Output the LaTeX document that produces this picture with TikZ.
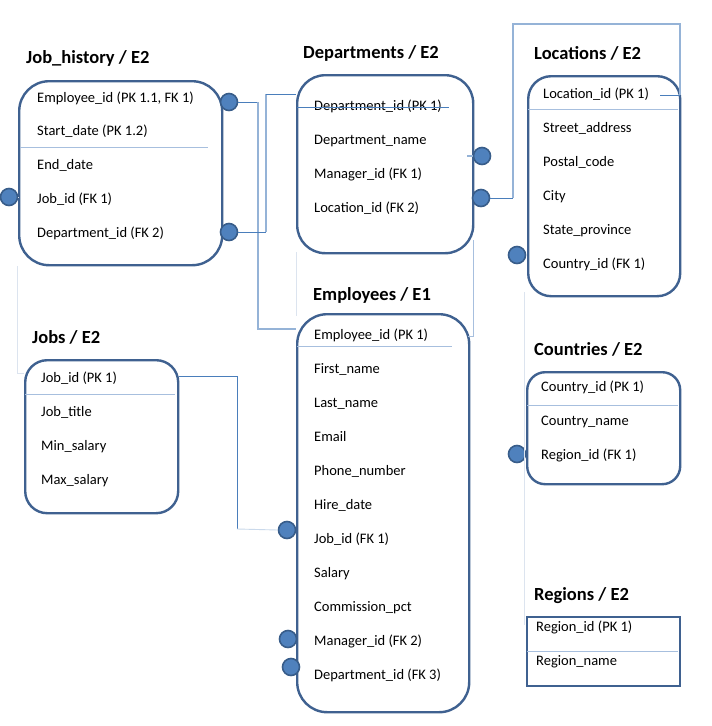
\documentclass[tikz,border=0pt]{standalone}
\usepackage{fontspec}
\setmainfont{Carlito}
\definecolor{boxc}{HTML}{3F6190}
\definecolor{dotf}{HTML}{4F81BD}
\definecolor{dotd}{HTML}{385D8A}
\definecolor{sepc}{HTML}{A7BFDE}
\definecolor{conc}{HTML}{4A7EBB}
\definecolor{conlc}{HTML}{95B3D7}
\definecolor{faintc}{HTML}{DCE4EF}
\begin{document}
\begin{tikzpicture}[x=1pt,y=-1pt,
  box/.style={draw=boxc, line width=2.4pt, fill=white, anchor=north west, inner sep=0pt},
  fld/.style={anchor=base west, font=\fontsize{14.5}{16}\selectfont, inner sep=0pt},
  ttl/.style={anchor=base west, font=\fontsize{18.5}{20}\selectfont\bfseries, inner sep=0pt},
  dot/.style={circle, draw=dotd, fill=dotf, line width=1.6pt, minimum size=17pt, inner sep=0pt},
  sepl/.style={draw=sepc, line width=0.8pt},
  con/.style={draw=conc, line width=1pt},
  conl/.style={draw=conlc, line width=1.3pt},
  faint/.style={draw=faintc, line width=0.9pt}]
\useasboundingbox[fill=white] (0,0) rectangle (712,726);

% ---------- boxes ----------
\node[box, rounded corners=30pt, minimum width=203pt, minimum height=184pt] (jh) at (18,80) {};
\node[box, rounded corners=28pt, minimum width=176pt, minimum height=178pt] (dep) at (296,74) {};
\node[box, rounded corners=23pt, minimum width=152pt, minimum height=220pt] (loc) at (527,75) {};
\node[box, rounded corners=30pt, minimum width=172pt, minimum height=398pt] (emp) at (296,313) {};
\node[box, rounded corners=22pt, minimum width=153pt, minimum height=153pt] (jobs) at (24,359) {};
\node[box, rounded corners=18pt, minimum width=153pt, minimum height=112pt] (cty) at (526,371) {};
\node[box, minimum width=153pt, minimum height=69pt] (reg) at (526,616) {};

% ---------- titles ----------
\node[ttl] (tjh) at (26,63) {Job\_history / E2};
\node[ttl] (tdep) at (303,58) {Departments / E2};
\node[ttl] (tloc) at (534,59) {Locations / E2};
\node[ttl] (temp) at (313,300) {Employees / E1};
\node[ttl] (tjobs) at (32,343) {Jobs / E2};
\node[ttl] (tcty) at (534,355) {Countries / E2};
\node[ttl] (treg) at (534,600) {Regions / E2};

% ---------- separators ----------
\coordinate (s1) at (20,147); \coordinate (s1e) at (208,147);
\draw[sepl] (s1) -- (s1e);
\coordinate (s2) at (528,109); \coordinate (s2e) at (678,109);
\draw[sepl] (s2) -- (s2e);
\coordinate (s3) at (297,346); \coordinate (s3e) at (452,346);
\draw[sepl] (s3) -- (s3e);
\coordinate (s4) at (25,394); \coordinate (s4e) at (175,394);
\draw[sepl] (s4) -- (s4e);
\coordinate (s5) at (527,405); \coordinate (s5e) at (678,405);
\draw[sepl] (s5) -- (s5e);
\coordinate (s6) at (527,651); \coordinate (s6e) at (678,651);
\draw[sepl] (s6) -- (s6e);

% ---------- fields ----------
\node[fld] (jh1) at (37,102) {Employee\_id (PK 1.1, FK 1)};
\node[fld] (jh2) at (37,135) {Start\_date (PK 1.2)};
\node[fld] (jh3) at (37,169) {End\_date};
\node[fld] (jh4) at (37,203) {Job\_id (FK 1)};
\node[fld] (jh5) at (37,237) {Department\_id (FK 2)};

\node[fld] (d1) at (314,110) {Department\_id (PK 1)};
\node[fld] (d2) at (314,144) {Department\_name};
\node[fld] (d3) at (314,178) {Manager\_id (FK 1)};
\node[fld] (d4) at (314,212) {Location\_id (FK 2)};

\node[fld] (l1) at (543,98) {Location\_id (PK 1)};
\node[fld] (l2) at (543,132) {Street\_address};
\node[fld] (l3) at (543,166) {Postal\_code};
\node[fld] (l4) at (543,200) {City};
\node[fld] (l5) at (543,234) {State\_province};
\node[fld] (l6) at (543,268) {Country\_id (FK 1)};

\node[fld] (e1) at (314,339) {Employee\_id (PK 1)};
\node[fld] (e2) at (314,373) {First\_name};
\node[fld] (e3) at (314,407) {Last\_name};
\node[fld] (e4) at (314,441) {Email};
\node[fld] (e5) at (314,475) {Phone\_number};
\node[fld] (e6) at (314,509) {Hire\_date};
\node[fld] (e7) at (314,543) {Job\_id (FK 1)};
\node[fld] (e8) at (314,577) {Salary};
\node[fld] (e9) at (314,611) {Commission\_pct};
\node[fld] (e10) at (314,645) {Manager\_id (FK 2)};
\node[fld] (e11) at (314,679) {Department\_id (FK 3)};

\node[fld] (j1) at (41,382) {Job\_id (PK 1)};
\node[fld] (j2) at (41,416) {Job\_title};
\node[fld] (j3) at (41,450) {Min\_salary};
\node[fld] (j4) at (41,484) {Max\_salary};

\node[fld] (c1) at (541,391) {Country\_id (PK 1)};
\node[fld] (c2) at (541,425) {Country\_name};
\node[fld] (c3) at (541,459) {Region\_id (FK 1)};

\node[fld] (r1) at (536,631) {Region\_id (PK 1)};
\node[fld] (r2) at (536,665) {Region\_name};

% ---------- connector points ----------
\coordinate (a1) at (258,102);
\coordinate (a2) at (258,329);
\coordinate (b1) at (266,232);
\coordinate (b2) at (266,94);
\coordinate (dl1) at (297,107);
\coordinate (dl2) at (449,107);
\coordinate (k1) at (513,198);
\coordinate (k2) at (513,24);
\coordinate (k3) at (680,24);
\coordinate (k4) at (680,95);
\coordinate (k5) at (660,95);
\coordinate (m1) at (237,376);
\coordinate (m2) at (237,529);
\coordinate (q1) at (467,156);
\coordinate (f1) at (473,240);
\coordinate (f2) at (473,336);
\coordinate (f3) at (468,336);
\coordinate (g1) at (296,252);
\coordinate (g2) at (296,316);
\coordinate (h1) at (17,266);
\coordinate (h2) at (17,373);
\coordinate (h3) at (24,373);
\coordinate (i1) at (524,292);
\coordinate (i2) at (524,625);

% ---------- dots ----------
\node[dot] (pjh1) at (229,102) {};
\node[dot] (pjh2) at (229,232) {};
\node[dot] (pjh0) at (9,197) {};
\node[dot] (pd1) at (482,156) {};
\node[dot] (pd2) at (481,198) {};
\node[dot] (pl) at (517,255) {};
\node[dot] (pc) at (517,454) {};
\node[dot] (pe1) at (287,530) {};
\node[dot] (pe2) at (288,639) {};
\node[dot] (pe3) at (291,667) {};

% ---------- connectors ----------
\draw[con] (pjh1.east) -- (a1);
\draw[conl] (a1) -- (a2) -- (emp.west |- a2);
\draw[con] (pjh2.east) -- (b1);
\draw[conl] (b1) -- (b2);
\draw[con] (b2) -- (dep.west |- b2);
\draw[con] (dl1) -- (dl2);
\draw[con] (pd2.east) -- (k1);
\draw[conl] (k1) -- (k2) -- (k3) -- (k4);
\draw[con] (k4) -- (k5);
\draw[con] (jobs.east |- m1) -- (m1) -- (m2);
\draw[faint, draw=sepc!60] (m2) -- (pe1.west);
\draw[conl] (q1) -- (pd1.west);
\draw[sepl] (f1) -- (f2) -- (f3);
\draw[faint] (g1) -- (g2);
\draw[faint] (h1) -- (h2) -- (h3);
\draw[faint] (i1) -- (i2);
\draw[faint] (pjh0.east) -- (jh.west |- pjh0);
\end{tikzpicture}
\end{document}
